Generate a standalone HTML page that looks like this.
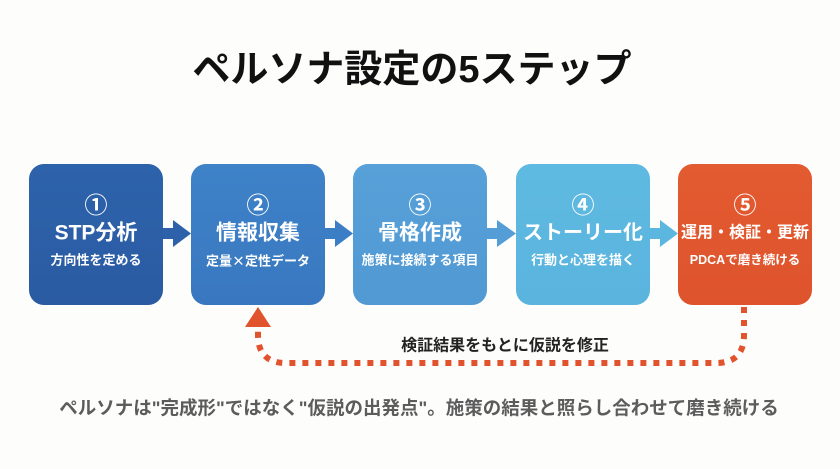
<!DOCTYPE html>
<html lang="ja">
<head>
<meta charset="utf-8">
<style>
  html,body{margin:0;padding:0;background:#fdfdfc;}
  body{width:840px;height:469px;overflow:hidden;}
  svg{display:block;}
  text{font-family:"Liberation Sans","Noto Sans CJK JP",sans-serif;}
  .cjk{font-family:"Noto Sans CJK JP",sans-serif;}
</style>
</head>
<body>
<svg width="840" height="469" viewBox="0 0 840 469" xmlns="http://www.w3.org/2000/svg">
  <defs>
    <linearGradient id="g1" x1="0" y1="0" x2="0" y2="1"><stop offset="0" stop-color="#2d63ab"/><stop offset="1" stop-color="#2a5ba2"/></linearGradient>
    <linearGradient id="g2" x1="0" y1="0" x2="0" y2="1"><stop offset="0" stop-color="#3e82c8"/><stop offset="1" stop-color="#3978c0"/></linearGradient>
    <linearGradient id="g3" x1="0" y1="0" x2="0" y2="1"><stop offset="0" stop-color="#57a0d8"/><stop offset="1" stop-color="#5199d3"/></linearGradient>
    <linearGradient id="g4" x1="0" y1="0" x2="0" y2="1"><stop offset="0" stop-color="#5fbae1"/><stop offset="1" stop-color="#5ab4de"/></linearGradient>
    <linearGradient id="g5" x1="0" y1="0" x2="0" y2="1"><stop offset="0" stop-color="#e35b31"/><stop offset="1" stop-color="#de532c"/></linearGradient>
  </defs>
  <rect width="840" height="469" fill="#fdfdfc"/>

  <!-- Title -->
  <text x="412" y="70" text-anchor="middle" dominant-baseline="central" font-size="38" font-weight="bold" fill="#111">ペルソナ設定の5ステップ</text>

  <!-- Boxes -->
  <rect x="29" y="164" width="134" height="141" rx="15" fill="url(#g1)"/>
  <rect x="191" y="164" width="134" height="141" rx="15" fill="url(#g2)"/>
  <rect x="353" y="164" width="134" height="141" rx="15" fill="url(#g3)"/>
  <rect x="516" y="164" width="134" height="141" rx="15" fill="url(#g4)"/>
  <rect x="678" y="164" width="134" height="141" rx="15" fill="url(#g5)"/>

  <!-- Connector arrows -->
  <polygon points="163,228 173,228 173,220 191,233.5 173,247 173,239 163,239" fill="#2d62aa"/>
  <polygon points="325,228 335,228 335,220 353,233.5 335,247 335,239 325,239" fill="#3b7ec5"/>
  <polygon points="487,228 497,228 497,220 516,233.5 497,247 497,239 487,239" fill="#559dd6"/>
  <polygon points="650,228 660,228 660,220 678,233.5 660,247 660,239 650,239" fill="#5cb7e0"/>

  <!-- Box texts -->
  <g fill="#fff" text-anchor="middle" dominant-baseline="central">
    <text class="cjk" x="96" y="203" font-size="23" font-weight="bold">①</text>
    <text x="96" y="233" font-size="21" font-weight="bold">STP分析</text>
    <text x="96" y="260" font-size="13" font-weight="bold">方向性を定める</text>

    <text class="cjk" x="258" y="203" font-size="23" font-weight="bold">②</text>
    <text x="258" y="233" font-size="21" font-weight="bold">情報収集</text>
    <text class="cjk" x="258" y="260" font-size="13" font-weight="bold">定量×定性データ</text>

    <text class="cjk" x="420" y="203" font-size="23" font-weight="bold">③</text>
    <text x="420" y="233" font-size="21" font-weight="bold">骨格作成</text>
    <text x="420" y="260" font-size="13" font-weight="bold">施策に接続する項目</text>

    <text class="cjk" x="583" y="203" font-size="23" font-weight="bold">④</text>
    <text x="583" y="233" font-size="20" font-weight="bold">ストーリー化</text>
    <text x="583" y="260" font-size="13" font-weight="bold">行動と心理を描く</text>

    <text class="cjk" x="745" y="203" font-size="23" font-weight="bold">⑤</text>
    <text x="745" y="233" font-size="16" font-weight="bold">運用・検証・更新</text>
    <text x="745" y="260" font-size="12.5" font-weight="bold">PDCAで磨き続ける</text>
  </g>

  <!-- Feedback dotted path -->
  <path d="M744,307 L744,335 Q744,363 716,363 L286,363 Q258,363 258,335 L258,329"
        fill="none" stroke="#e0532c" stroke-width="6" stroke-dasharray="6 7"/>
  <polygon points="258,307 271,327 245,327" fill="#e0532c"/>

  <text x="505" y="346" text-anchor="middle" dominant-baseline="central" font-size="16" font-weight="bold" fill="#222">検証結果をもとに仮説を修正</text>

  <!-- Bottom note -->
  <text x="419" y="408" text-anchor="middle" dominant-baseline="central" font-size="18.5" font-weight="bold" fill="#5c5c5c">ペルソナは"完成形"ではなく"仮説の出発点"。施策の結果と照らし合わせて磨き続ける</text>
</svg>
</body>
</html>
